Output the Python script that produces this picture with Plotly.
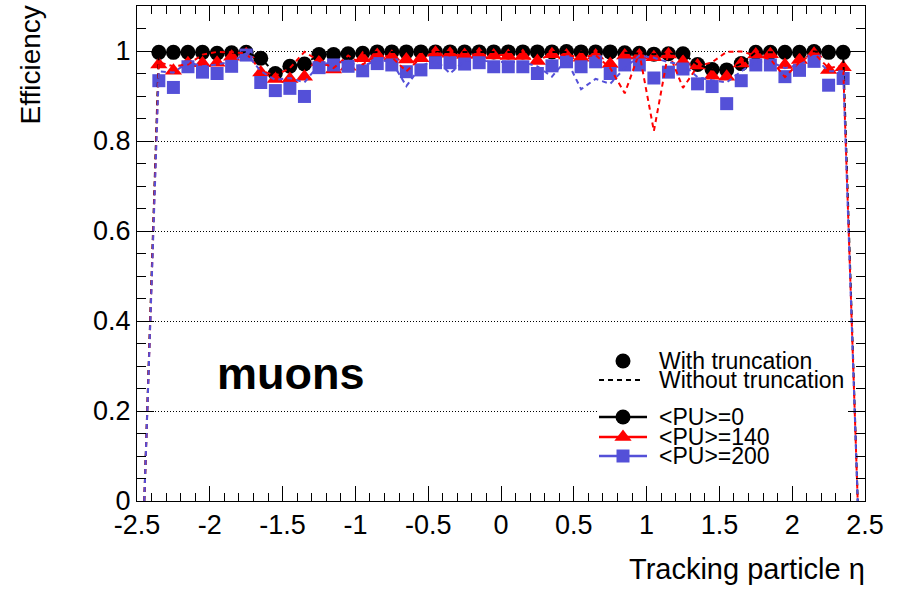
import plotly.graph_objects as go

# Tracking-particle pseudorapidity bin centres (bin width 0.1)
eta = [-2.45, -2.35, -2.25, -2.15, -2.05, -1.95, -1.85, -1.75, -1.65, -1.55,
       -1.45, -1.35, -1.25, -1.15, -1.05, -0.95, -0.85, -0.75, -0.65, -0.55,
       -0.45, -0.35, -0.25, -0.15, -0.05, 0.05, 0.15, 0.25, 0.35, 0.45,
       0.55, 0.65, 0.75, 0.85, 0.95, 1.05, 1.15, 1.25, 1.35, 1.45,
       1.55, 1.65, 1.75, 1.85, 1.95, 2.05, 2.15, 2.25, 2.35, 2.45]

# Efficiency with truncation (markers)
eff_pu0_trunc = [None, 0.997, 0.997, 0.997, 0.997, 0.995, 0.996, 0.997, 0.984, 0.950,
                 0.966, 0.971, 0.992, 0.992, 0.994, 0.995, 0.998, 0.998, 0.998, 0.998,
                 0.998, 0.998, 0.998, 0.998, 0.998, 0.998, 0.998, 0.998, 0.998, 0.999,
                 0.998, 0.998, 0.998, 0.996, 0.995, 0.993, 0.994, 0.994, 0.970, 0.959,
                 0.958, 0.972, 0.997, 0.997, 0.997, 0.997, 0.999, 0.997, 0.997, None]
eff_pu140_trunc = [None, 0.970, 0.956, 0.973, 0.973, 0.974, 0.987, 0.993, 0.952, 0.938,
                   0.938, 0.943, 0.975, 0.959, 0.965, 0.984, 0.991, 0.987, 0.981, 0.984,
                   0.996, 0.994, 0.991, 0.993, 0.990, 0.989, 0.989, 0.978, 0.993, 0.990,
                   0.985, 0.990, 0.971, 0.990, 0.990, 0.986, 0.992, 0.976, 0.968, 0.945,
                   0.943, 0.972, 0.992, 0.993, 0.969, 0.980, 0.994, 0.958, 0.964, None]
eff_pu200_trunc = [None, 0.934, 0.919, 0.965, 0.953, 0.950, 0.966, 0.991, 0.930, 0.912,
                   0.917, 0.899, 0.963, 0.969, 0.966, 0.956, 0.972, 0.969, 0.954, 0.958,
                   0.974, 0.974, 0.971, 0.974, 0.965, 0.965, 0.965, 0.950, 0.967, 0.976,
                   0.965, 0.976, 0.950, 0.969, 0.969, 0.940, 0.953, 0.960, 0.927, 0.921,
                   0.883, 0.934, 0.969, 0.969, 0.943, 0.957, 0.977, 0.924, 0.939, None]

# Efficiency without truncation (dashed lines)
eff_pu0_notrunc = [0.0, 0.997, 0.997, 0.997, 0.997, 0.995, 0.996, 0.997, 0.984, 0.950,
                   0.966, 0.971, 0.992, 0.992, 0.994, 0.995, 0.998, 0.998, 0.998, 0.998,
                   0.998, 0.998, 0.998, 0.998, 0.998, 0.998, 0.998, 0.998, 0.998, 0.999,
                   0.998, 0.998, 0.998, 0.996, 0.995, 0.993, 0.994, 0.994, 0.970, 0.959,
                   0.958, 0.972, 0.997, 0.997, 0.997, 0.997, 0.999, 0.997, 0.997, 0.0]
eff_pu140_notrunc = [0.0, 0.975, 0.966, 0.970, 0.992, 0.998, 0.997, 0.995, 0.957, 0.945,
                     0.962, 0.998, 0.978, 0.962, 0.990, 0.970, 0.992, 0.986, 0.955, 0.985,
                     0.996, 0.990, 0.993, 0.991, 0.990, 0.992, 0.986, 0.980, 0.992, 0.991,
                     0.986, 0.991, 0.962, 0.906, 0.996, 0.822, 0.998, 0.918, 0.966, 0.975,
                     0.998, 0.999, 0.990, 0.982, 0.942, 0.975, 0.995, 0.962, 0.968, 0.0]
eff_pu200_notrunc = [0.0, 0.955, 0.952, 0.975, 0.966, 0.970, 0.976, 0.995, 0.955, 0.936,
                     0.940, 0.930, 0.970, 0.975, 0.975, 0.966, 0.980, 0.976, 0.922, 0.966,
                     0.981, 0.950, 0.978, 0.980, 0.975, 0.976, 0.975, 0.966, 0.943, 0.981,
                     0.915, 0.938, 0.927, 0.962, 0.990, 0.985, 0.975, 0.970, 0.942, 0.935,
                     0.930, 0.955, 0.976, 0.976, 0.962, 0.970, 0.986, 0.955, 0.955, 0.0]

x_tick_vals = [-2.5, -2, -1.5, -1, -0.5, 0, 0.5, 1, 1.5, 2, 2.5]
x_tick_text = ["-2.5", "-2", "-1.5", "-1", "-0.5", "0", "0.5", "1", "1.5", "2", "2.5"]
y_tick_vals = [0, 0.2, 0.4, 0.6, 0.8, 1.0]
y_tick_text = ["0", "0.2", "0.4", "0.6", "0.8", "1"]

series_names = ["<PU>=0", "<PU>=140", "<PU>=200"]
series_colors = ["#000000", "#FF0000", "#5450D8"]
series_symbols = ["circle", "triangle-up", "square"]
series_sizes = [15, 15, 13]

FONT = "Liberation Sans, Arial, Helvetica, sans-serif"
DASH = "5px,4px"

X_RANGE = [-2.5, 2.5]
Y_RANGE = [0, 1.1]

# Frame geometry in page pixels (used for annotations and the legend overlay)
W, H = 898, 589
L, R, T, B = 137, 865, 6, 501


def paper_x(px):
    return (px - L) / (R - L)


def paper_y(py):
    return (B - py) / (B - T)


def data_x(px):
    return X_RANGE[0] + paper_x(px) * (X_RANGE[1] - X_RANGE[0])


def data_y(py):
    return Y_RANGE[0] + paper_y(py) * (Y_RANGE[1] - Y_RANGE[0])


fig = go.Figure()

trunc = [eff_pu0_trunc, eff_pu140_trunc, eff_pu200_trunc]
notrunc = [eff_pu0_notrunc, eff_pu140_notrunc, eff_pu200_notrunc]

# Markers: efficiency with truncation
for vals, name, col, sym, sz in zip(trunc, series_names, series_colors, series_symbols, series_sizes):
    fig.add_trace(go.Scatter(
        x=eta, y=vals, mode="markers", name=name,
        marker=dict(symbol=sym, size=sz, color=col, line=dict(width=0)),
        cliponaxis=False, showlegend=False))

# Dashed lines: efficiency without truncation
for vals, name, col in zip(notrunc, series_names, series_colors):
    fig.add_trace(go.Scatter(
        x=eta, y=vals, mode="lines", name=name + " (no trunc.)",
        line=dict(color=col, width=2, dash=DASH), showlegend=False))

# Legend keys drawn on a pixel-scaled overlay axis
leg_x0, leg_xm, leg_x1 = 599, 623, 647
fig.add_trace(go.Scatter(x=[leg_xm], y=[361], mode="markers", xaxis="x2", yaxis="y2",
                         marker=dict(symbol="circle", size=15, color="black"),
                         showlegend=False, hoverinfo="skip"))
fig.add_trace(go.Scatter(x=[leg_x0, 643], y=[380, 380], mode="lines", xaxis="x2", yaxis="y2",
                         line=dict(color="black", width=2, dash=DASH),
                         showlegend=False, hoverinfo="skip"))
legend_rows = [417, 437, 456]
for row, col, sym, sz in zip(legend_rows, series_colors, series_symbols, series_sizes):
    fig.add_trace(go.Scatter(x=[leg_x0, leg_x1], y=[row, row], mode="lines", xaxis="x2", yaxis="y2",
                             line=dict(color=col, width=2.5), showlegend=False, hoverinfo="skip"))
    fig.add_trace(go.Scatter(x=[leg_xm], y=[row], mode="markers", xaxis="x2", yaxis="y2",
                             marker=dict(symbol=sym, size=sz, color=col, line=dict(width=0)),
                             showlegend=False, hoverinfo="skip"))

annotations = []
legend_texts = [("With truncation", 361), ("Without truncation", 380)]
legend_texts += [(n.replace("<", "&lt;").replace(">", "&gt;"), r) for n, r in zip(series_names, legend_rows)]
for txt, row in legend_texts:
    annotations.append(dict(x=paper_x(657), y=paper_y(row), xref="paper", yref="paper",
                            text=txt, showarrow=False, xanchor="left", yanchor="middle",
                            font=dict(family=FONT, size=23, color="black")))

# Axis titles
annotations.append(dict(x=paper_x(30), y=paper_y(4), xref="paper", yref="paper",
                        text="Efficiency", textangle=-90, showarrow=False,
                        xanchor="center", yanchor="top",
                        font=dict(family=FONT, size=28, color="black")))
annotations.append(dict(x=paper_x(867), y=paper_y(569), xref="paper", yref="paper",
                        text="Tracking particle η", showarrow=False,
                        xanchor="right", yanchor="middle",
                        font=dict(family=FONT, size=29, color="black")))
# Sample label
annotations.append(dict(x=paper_x(291), y=paper_y(373), xref="paper", yref="paper",
                        text="<b>muons</b>", showarrow=False,
                        xanchor="center", yanchor="middle",
                        font=dict(family="Liberation Sans Narrow, Arial Narrow, Liberation Sans, sans-serif",
                                  size=45, color="black")))

# White backing behind the pile-up legend block (hides the 0.2 grid line there)
shapes = [dict(type="rect", xref="x", yref="y",
               x0=data_x(597), x1=data_x(864), y0=data_y(468), y1=data_y(401),
               fillcolor="white", line=dict(width=0), layer="between")]

fig.update_layout(
    width=W, height=H,
    margin=dict(l=L, r=W - R, t=T, b=H - B, pad=0),
    paper_bgcolor="white", plot_bgcolor="white",
    showlegend=False,
    font=dict(family=FONT, color="black"),
    annotations=annotations,
    shapes=shapes,
    xaxis=dict(range=X_RANGE, tickvals=x_tick_vals, ticktext=x_tick_text,
               ticks="inside", ticklen=15, tickwidth=1, tickcolor="black",
               showline=True, linecolor="black", linewidth=1, mirror="ticks",
               showgrid=False, zeroline=False, ticklabelstandoff=0,
               tickfont=dict(family=FONT, size=27, color="black"),
               minor=dict(ticks="inside", ticklen=8, dtick=0.1, tick0=-2.5,
                          tickcolor="black", tickwidth=1, showgrid=False)),
    yaxis=dict(range=Y_RANGE, tickvals=y_tick_vals, ticktext=y_tick_text,
               ticks="inside", ticklen=17, tickwidth=1, tickcolor="black",
               showline=True, linecolor="black", linewidth=1, mirror="ticks",
               showgrid=True, gridcolor="black", gridwidth=1, griddash="1px,2px",
               zeroline=False, ticklabelstandoff=0,
               tickfont=dict(family=FONT, size=27, color="black"),
               minor=dict(ticks="inside", ticklen=9, dtick=0.05, tick0=0,
                          tickcolor="black", tickwidth=1, showgrid=False)),
    xaxis2=dict(overlaying="x", range=[L, R], visible=False, anchor="y2"),
    yaxis2=dict(overlaying="y", range=[B, T], visible=False, anchor="x2"),
)

fig.write_html("out.html")
